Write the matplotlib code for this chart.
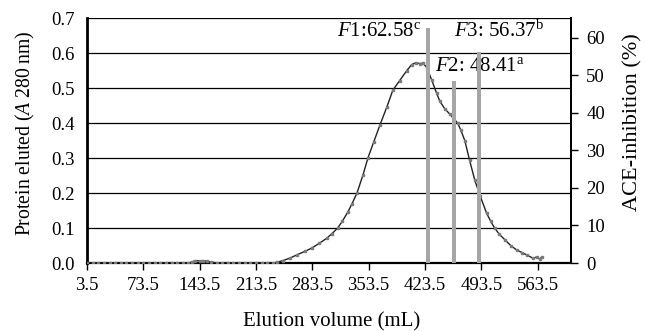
import matplotlib
matplotlib.use("Agg")
import matplotlib.pyplot as plt

# Elution profile
volume = [3.5, 10.5, 17.5, 24.5, 31.5, 38.5, 45.5, 52.5, 59.5, 66.5,
          73.5, 80.5, 87.5, 94.5, 101.5, 108.5, 115.5, 122.5, 129.5,
          134, 138, 143.5, 148, 153, 158,
          164.5, 171.5, 178.5, 185.5, 192.5, 199.5, 206.5, 213.5, 220.5, 227.5, 234.5,
          239.5, 247, 255.7, 265, 274, 283, 292, 301.6, 308, 315, 321, 327.7, 333, 339,
          346.4, 352.6, 360, 367.5, 376, 383.6, 392, 401, 407, 412, 417, 421, 426,
          432, 438, 442, 448, 454.5, 458, 464, 468, 473, 479, 485.5, 492, 500, 505,
          510, 516, 523, 530, 537.6, 544, 550, 557.5, 562.5, 566, 568.7]
absorbance = [0, 0, 0, 0, 0, 0, 0, 0, 0, 0,
              0, 0, 0, 0, 0, 0, 0, 0, 0,
              0.003, 0.007, 0.006, 0.007, 0.005, 0.003,
              0, 0, 0, 0, 0, 0, 0, 0, 0, 0, 0,
              0.002, 0.007, 0.014, 0.024, 0.033, 0.043, 0.056, 0.071, 0.084, 0.1, 0.12, 0.146, 0.17, 0.2,
              0.251, 0.3, 0.347, 0.394, 0.445, 0.494, 0.521, 0.55, 0.567, 0.572, 0.570, 0.571, 0.558,
              0.522, 0.485, 0.462, 0.441, 0.425, 0.416, 0.4, 0.38, 0.35, 0.293, 0.236, 0.192, 0.143, 0.12,
              0.1, 0.082, 0.066, 0.05, 0.037, 0.03, 0.023, 0.014, 0.017, 0.011, 0.017]

# ACE inhibition of the fractions
frac_names = ["F1", "F2", "F3"]
frac_volume = [427, 459, 490.5]
frac_inhib = [62.58, 48.41, 56.37]
frac_letters = ["c", "a", "b"]

xticks = [3.5, 73.5, 143.5, 213.5, 283.5, 353.5, 423.5, 493.5, 563.5]
left_ticks = [0.0, 0.1, 0.2, 0.3, 0.4, 0.5, 0.6, 0.7]
right_ticks = [0, 10, 20, 30, 40, 50, 60]

plt.rcParams['font.family'] = 'Liberation Serif'
plt.rcParams['mathtext.fontset'] = 'custom'
plt.rcParams['mathtext.rm'] = 'Liberation Serif'
plt.rcParams['mathtext.it'] = 'Liberation Serif:italic'

fig = plt.figure(figsize=(6.45, 3.31), dpi=100)
ax = fig.add_axes((0.1349, 0.2054, 0.7504, 0.7402))

ax.plot(volume, absorbance, color='#222222', lw=1.0, marker='s', ms=1.9,
        mfc='#7a7a7a', mec='#7a7a7a', zorder=3)

ax.set_xlim(3.5, 605)
ax.set_ylim(0, 0.7)
ax.set_xticks(xticks)
ax.set_xticklabels([f"{t:.1f}" for t in xticks])
ax.set_yticks(left_ticks)
ax.set_yticklabels([f"{t:.1f}" for t in left_ticks])
for t in left_ticks[1:]:
    ax.axhline(t, color='black', lw=0.9, zorder=1)

ax.tick_params(axis='y', length=0, pad=9, labelsize=13.5)
ax.tick_params(axis='x', direction='out', length=5, width=1, pad=5, labelsize=13.5)
ax.spines['left'].set_linewidth(2)
ax.spines['bottom'].set_linewidth(1.6)
ax.spines['top'].set_visible(False)
ax.spines['right'].set_linewidth(1.4)

ax.set_xlabel("Elution volume (mL)", fontsize=15, va='center')
ax.xaxis.set_label_coords(0.506, -0.24)
ax.set_ylabel("Protein eluted ($\\mathit{A}$ 280\u2009nm)", fontsize=14.2,
              va='center', ha='center')
ax.yaxis.set_label_coords(-0.128, 0.531)

ax2 = ax.twinx()
ax2.bar(frac_volume, frac_inhib, width=5, color='#a6a6a6', zorder=4)
ax2.set_ylim(0, 65.3)
ax2.set_yticks(right_ticks)
ax2.tick_params(axis='y', direction='out', length=5, width=1, pad=6, labelsize=13.5)
ax2.spines['top'].set_visible(False)
ax2.spines['right'].set_linewidth(1.4)
ax2.spines['left'].set_visible(False)
ax2.spines['bottom'].set_visible(False)
ax2.set_ylabel("ACE-inhibition (%)", fontsize=16, va='center', ha='center')
ax2.yaxis.set_label_coords(1.128, 0.576)

label_pos = [(366, 0.662), (492, 0.562), (515.5, 0.662)]
seps = [":", ": ", ": "]
for name, val, let, sep, (lx, ly) in zip(frac_names, frac_inhib, frac_letters, seps, label_pos):
    ax.text(lx, ly, f"$\\mathit{{F}}${name[1]}{sep}{val:.2f}$^{{\\mathrm{{{let}}}}}$",
            ha='center', va='center', fontsize=15, zorder=5)

fig.savefig("out.png", dpi=100)
